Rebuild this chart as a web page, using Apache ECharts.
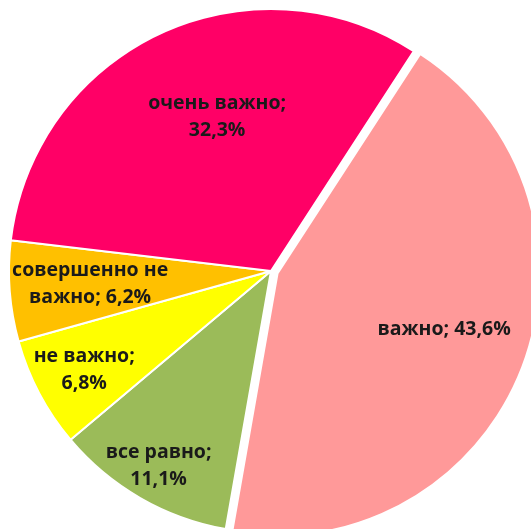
<!DOCTYPE html>
<html>
<head>
<meta charset="utf-8">
<script src="https://cdn.jsdelivr.net/npm/echarts@6/dist/echarts.min.js"></script>
<style>
html,body{margin:0;padding:0;background:#fff;}
#chart{width:531px;height:529px;}
</style>
</head>
<body>
<div id="chart"></div>
<script>
// Data
const categories = ['важно', 'все равно', 'не важно', 'совершенно не важно', 'очень важно'];
const labelTexts = ['важно; 43,6%', 'все равно;\n11,1%', 'не важно;\n6,8%', 'совершенно не\nважно; 6,2%', 'очень важно;\n32,3%'];
const values = [43.6, 11.1, 6.8, 6.2, 32.3];
const colors = ['#FF9999', '#9BBB59', '#FFFF00', '#FFC000', '#FF0066'];
const exploded = [true, false, false, false, false];

// Layout settings
const cx = 271, cy = 271, R = 262;
const startAngle = 57;
const explodeOffset = 7;
// label anchors in polar form: [fraction of radius, angle in degrees ccw from 3 o'clock]
const labelAnchors = [[0.67, -18.4], [0.858, 240], [0.806, 207.8], [0.692, 184], [0.622, 109.3]];

const total = values.reduce((a, b) => a + b, 0);
const midAngles = [];
let acc = 0;
values.forEach(v => {
  const mid = startAngle - (acc + v / 2) / total * 360; // degrees ccw from 3 o'clock
  midAngles.push(mid * Math.PI / 180);
  acc += v;
});
const explodeIdx = exploded.indexOf(true);
const ex = explodeOffset * Math.cos(midAngles[explodeIdx]);
const ey = -explodeOffset * Math.sin(midAngles[explodeIdx]);

const labelStyle = {
  show: true,
  position: 'inside',
  fontFamily: 'Open Sans',
  fontWeight: 'bold',
  fontSize: 19.5,
  lineHeight: 27,
  color: '#1a1a1a',
  align: 'center'
};

function makeSeries(isExplodedLayer) {
  const ox = isExplodedLayer ? ex : 0, oy = isExplodedLayer ? ey : 0;
  return {
    type: 'pie',
    center: [cx + ox, cy + oy],
    radius: [0, R],
    startAngle: startAngle,
    clockwise: true,
    avoidLabelOverlap: false,
    silent: true,
    label: labelStyle,
    labelLine: {show: false},
    emphasis: {disabled: true},
    labelLayout: function (p) {
      const i = p.dataIndex;
      const a = labelAnchors[i][1] * Math.PI / 180;
      const rr = labelAnchors[i][0] * R;
      return {
        x: cx + ox + rr * Math.cos(a),
        y: cy + oy - rr * Math.sin(a),
        align: 'center',
        verticalAlign: 'middle'
      };
    },
    data: categories.map((c, i) => {
      const visible = exploded[i] === isExplodedLayer;
      return {
        name: c,
        value: values[i],
        itemStyle: visible
          ? {color: colors[i], borderColor: '#fff', borderWidth: 2}
          : {color: 'rgba(0,0,0,0)', borderWidth: 0},
        label: visible ? {formatter: labelTexts[i]} : {show: false}
      };
    })
  };
}

const chart = echarts.init(document.getElementById('chart'), null, {renderer: 'canvas'});
chart.setOption({
  animation: false,
  backgroundColor: '#fff',
  series: [makeSeries(false), makeSeries(true)]
});
</script>
</body>
</html>
